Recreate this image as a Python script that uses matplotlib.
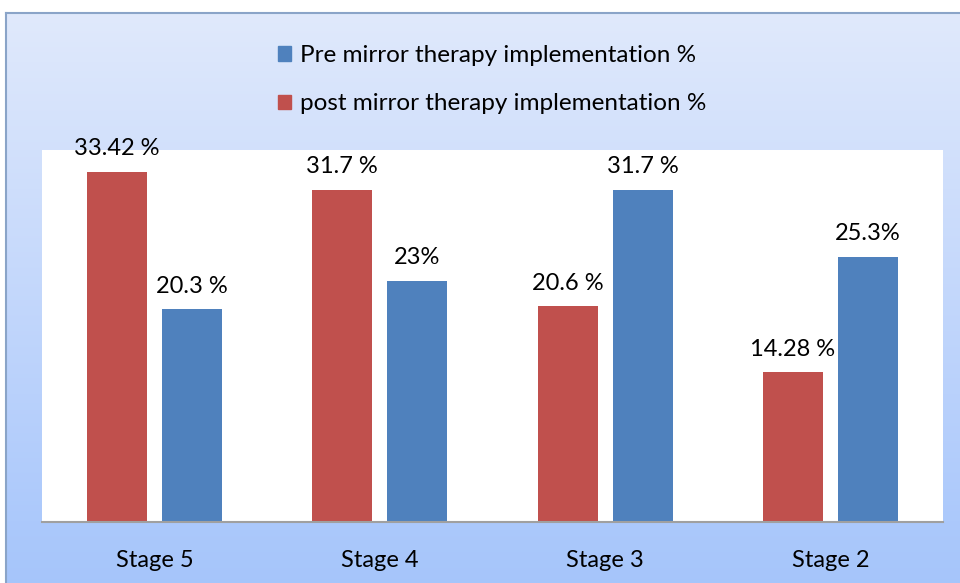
import numpy as np
import matplotlib.pyplot as plt
from matplotlib.patches import Patch
from matplotlib.lines import Line2D

plt.rcParams['font.family'] = ['Lato', 'DejaVu Sans']

stages = ['Stage 5', 'Stage 4', 'Stage 3', 'Stage 2']
post = [33.42, 31.7, 20.6, 14.28]
pre = [20.3, 23, 31.7, 25.3]
post_labels = ['33.42 %', '31.7 %', '20.6 %', '14.28 %']
pre_labels = ['20.3 %', '23%', '31.7 %', '25.3%']

red = '#c0504d'
blue = '#4f81bd'

fig = plt.figure(figsize=(9.6, 5.83), dpi=100)

# gradient background of the chart frame
bg = fig.add_axes([6 / 960, 0, 1 - 6 / 960, (583 - 13) / 583], zorder=0)
grad = np.linspace(0, 1, 256).reshape(-1, 1)
top = np.array([0.878, 0.914, 0.988])
bot = np.array([0.650, 0.773, 0.984])
img = top + (bot - top) * grad[:, :, None]
bg.imshow(img, aspect='auto', extent=[0, 1, 0, 1], origin='upper')
bg.set_xlim(0, 1)
bg.set_ylim(0, 1)
bg.axis('off')
fig.add_artist(Line2D([6 / 960, 6 / 960], [0, (583 - 13) / 583], color='#8aa4c8', lw=1.5))
fig.add_artist(Line2D([6 / 960, 1], [(583 - 13) / 583] * 2, color='#8aa4c8', lw=1.5))

ax = fig.add_axes([42 / 960, 61 / 583, 901 / 960, 372 / 583], zorder=1)
ax.set_facecolor('white')
x = np.arange(len(stages))
w = 0.266
off = 0.1665
ax.bar(x - off, post, w, color=red)
ax.bar(x + off, pre, w, color=blue)
for i in range(len(stages)):
    ax.text(x[i] - off, post[i] + 1.2, post_labels[i], ha='center', va='bottom', fontsize=17)
    ax.text(x[i] + off, pre[i] + 1.2, pre_labels[i], ha='center', va='bottom', fontsize=17)
ax.set_xlim(-0.5, 3.5)
ax.set_ylim(0, 35.5)
ax.set_yticks([])
ax.set_xticks(x)
ax.set_xticklabels(stages, fontsize=17)
ax.tick_params(axis='x', length=0, pad=20)
for s in ['top', 'left', 'right']:
    ax.spines[s].set_visible(False)
ax.spines['bottom'].set_color('#a0a0a0')
ax.spines['bottom'].set_linewidth(1.5)
for t in ax.texts:
    t.set_clip_on(False)

handles = [Patch(color=blue, label='Pre mirror therapy implementation %'),
           Patch(color=red, label='post mirror therapy implementation %')]
fig.legend(handles=handles, loc='upper left', bbox_to_anchor=(278 / 960, 1 - 45 / 583),
           frameon=False, fontsize=17.5, handlelength=0.55, handleheight=0.55,
           handletextpad=0.35, labelspacing=1.13, borderaxespad=0, borderpad=0)

fig.savefig('out.png', dpi=100)
